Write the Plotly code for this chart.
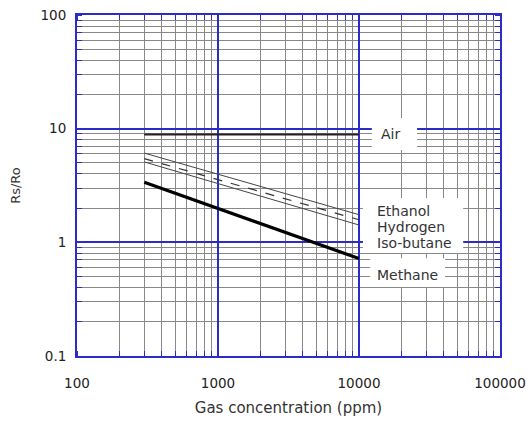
import plotly.graph_objects as go

conc = [300, 10000]
air = [8.9, 8.9]
ethanol = [6.1, 1.75]
hydrogen = [5.45, 1.58]
isobutane = [5.1, 1.42]
methane = [3.37, 0.72]

x_ticks = [100, 1000, 10000, 100000]
x_ticktext = ["100", "1000", "10000", "100000"]
y_ticks = [0.1, 1, 10, 100]
y_ticktext = ["0.1", "1", "10", "100"]

labels = ["Air", "Ethanol", "Hydrogen", "Iso-butane", "Methane"]

FAM = "DejaVu Sans, Verdana, sans-serif"
BLUE = "#2b2bc8"
GRAY = "#888888"

fig = go.Figure()
fig.add_trace(go.Scatter(x=conc, y=air, mode="lines", line=dict(color="#222", width=2), name="Air"))
fig.add_trace(go.Scatter(x=conc, y=ethanol, mode="lines", line=dict(color="#444", width=1), name="Ethanol"))
fig.add_trace(go.Scatter(x=conc, y=hydrogen, mode="lines", line=dict(color="#333", width=1.2, dash="dash"), name="Hydrogen"))
fig.add_trace(go.Scatter(x=conc, y=isobutane, mode="lines", line=dict(color="#444", width=1), name="Iso-butane"))
fig.add_trace(go.Scatter(x=conc, y=methane, mode="lines", line=dict(color="#000", width=3.2), name="Methane"))

# white label backgrounds (paper coords)
boxes = [(0.697, 0.804, 0.604, 0.698), (0.676, 0.913, 0.302, 0.463), (0.693, 0.870, 0.202, 0.287)]
for x0, x1, y0, y1 in boxes:
    fig.add_shape(type="rect", xref="paper", yref="paper", x0=x0, x1=x1, y0=y0, y1=y1,
                  fillcolor="white", line=dict(width=0), layer="above")

ann_pos = [(0.742, 0.651, "center"), (0.705, 0.425, "left"), (0.705, 0.378, "left"),
           (0.705, 0.331, "left"), (0.705, 0.238, "left")]
for lab, (px, py, anc) in zip(labels, ann_pos):
    fig.add_annotation(x=px, y=py, xref="paper", yref="paper", text=lab, showarrow=False,
                       xanchor=anc, yanchor="middle",
                       font=dict(family=FAM, size=14, color="#333"))

fig.update_layout(
    width=529, height=421,
    margin=dict(l=77, r=29, t=15, b=65),
    paper_bgcolor="white", plot_bgcolor="white",
    showlegend=False,
    font=dict(family=FAM, size=13, color="#222"),
)
common = dict(
    showgrid=True, gridcolor=BLUE, gridwidth=1.6,
    showline=True, linecolor=BLUE, linewidth=2, mirror="allticks",
    ticks="", automargin=False, zeroline=False,
    tickfont=dict(family=FAM, size=13.5, color="#222"),
    minor=dict(showgrid=True, gridcolor=GRAY, gridwidth=1, dtick="D1",
               ticks="inside", ticklen=5, tickcolor=BLUE, tickwidth=1),
)
fig.update_xaxes(
    type="log", range=[2, 5],
    tickvals=x_ticks, ticktext=x_ticktext, ticklabelstandoff=14,
    title=dict(text="Gas concentration (ppm)", font=dict(family=FAM, size=15, color="#333"), standoff=12),
    **common,
)
fig.update_yaxes(
    type="log", range=[-1, 2],
    tickvals=y_ticks, ticktext=y_ticktext, ticklabelstandoff=6,
    title=dict(text="Rs/Ro", font=dict(family=FAM, size=13, color="#333"), standoff=17),
    **common,
)

fig.write_html("out.html", config={"displayModeBar": False},
               post_script="document.body.style.margin='0';document.body.style.overflow='hidden';")
